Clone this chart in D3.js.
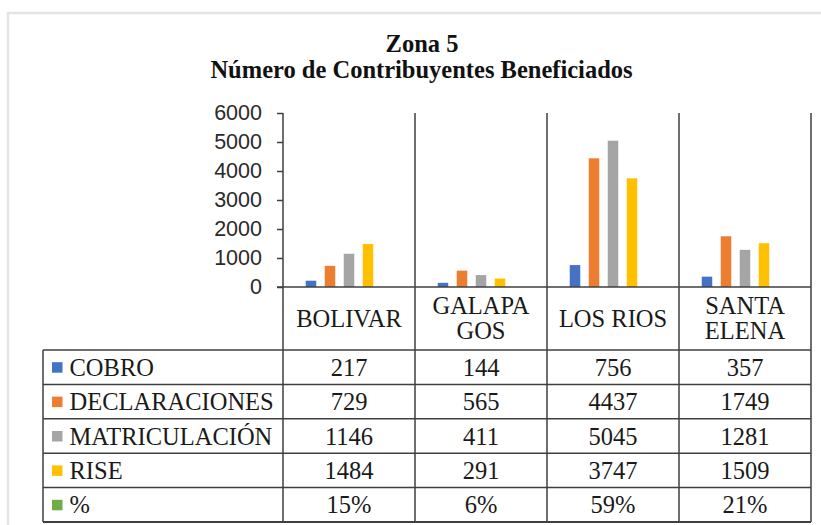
<!DOCTYPE html>
<html>
<head>
<meta charset="utf-8">
<script src="https://cdn.jsdelivr.net/npm/d3@7"></script>
<style>
  html, body { margin: 0; padding: 0; background: #ffffff; }
  svg { display: block; }
  .serif { font-family: "Liberation Serif", "Times New Roman", serif; }
  .sans { font-family: "Liberation Sans", Arial, sans-serif; }
</style>
</head>
<body>
<div id="chart"></div>
<script>
// ---- data ----
const titleLines = ["Zona 5", "Número de Contribuyentes Beneficiados"];
const categories = ["BOLIVAR", "GALAPAGOS", "LOS RIOS", "SANTA ELENA"];
const categoryLabels = [["BOLIVAR"], ["GALAPA", "GOS"], ["LOS RIOS"], ["SANTA", "ELENA"]];
const seriesNames = ["COBRO", "DECLARACIONES", "MATRICULACIÓN", "RISE", "%"];
const cobro = [217, 144, 756, 357];
const declaraciones = [729, 565, 4437, 1749];
const matriculacion = [1146, 411, 5045, 1281];
const rise = [1484, 291, 3747, 1509];
const porcentaje = [0.15, 0.06, 0.59, 0.21];
const yTicks = [0, 1000, 2000, 3000, 4000, 5000, 6000];
const seriesColors = ["#4472C4", "#ED7D31", "#A5A5A5", "#FFC000", "#70AD47"];

const seriesValues = [cobro, declaraciones, matriculacion, rise, porcentaje];
const seriesFormats = [d3.format("d"), d3.format("d"), d3.format("d"), d3.format("d"), d3.format(".0%")];

// ---- layout ----
const W = 821, H = 525;
const plotLeft = 283, plotRight = 811, plotTop = 113, plotBottom = 287;
const headerBottom = 350, tableLeft = 43, tableBottom = 522;
const rowH = (tableBottom - headerBottom) / seriesNames.length;
const lineColor = "#3f3f3f";
const textColor = "#1a1a1a";
const tableFont = "24.5px";

const svg = d3.select("#chart").append("svg")
  .attr("width", W).attr("height", H);

// outer frame (light gray)
svg.append("path")
  .attr("d", `M8,${H} L8,13 L${W},13`)
  .attr("fill", "none").attr("stroke", "#e4e4e4").attr("stroke-width", 2.5);

// title
svg.selectAll("text.title").data(titleLines).join("text")
  .attr("class", "title serif")
  .attr("x", (d, i) => i === 0 ? 422 : 421.5)
  .attr("y", (d, i) => i === 0 ? 52 : 78)
  .attr("text-anchor", "middle")
  .style("font-weight", "bold")
  .style("font-size", "24.5px").attr("fill", "#111")
  .text(d => d);

// scales
const x0 = d3.scaleBand().domain(categories).range([plotLeft, plotRight]).padding(0);
const x1 = d3.scaleBand().domain(seriesNames).range([0, x0.bandwidth()])
  .paddingInner(0.447).paddingOuter(1.197);
const y = d3.scaleLinear().domain([0, 6000]).range([plotBottom, plotTop]);

// bars
const barData = [];
categories.forEach((c, ci) => {
  seriesNames.forEach((s, si) => {
    barData.push({ c, s, si, v: seriesValues[si][ci] });
  });
});
svg.append("g").selectAll("rect").data(barData).join("rect")
  .attr("x", d => x0(d.c) + x1(d.s))
  .attr("width", x1.bandwidth())
  .attr("y", d => y(d.v))
  .attr("height", d => y(0) - y(d.v))
  .attr("fill", d => seriesColors[d.si]);

// y axis
const yAxis = d3.axisLeft(y).tickValues(yTicks).tickSize(6).tickPadding(15).tickFormat(d3.format("d"));
const gy = svg.append("g").attr("transform", `translate(${plotLeft},0)`).call(yAxis);
gy.attr("font-family", null).attr("font-size", null);
gy.select(".domain").remove();
gy.selectAll(".tick line").attr("stroke", lineColor).attr("stroke-width", 1.5);
gy.selectAll(".tick text")
  .attr("class", "sans").style("font-size", "21.5px").attr("fill", "#2a2a2a");

// horizontal axis line (category axis)
svg.append("line")
  .attr("x1", plotLeft - 6).attr("x2", plotRight)
  .attr("y1", y(0)).attr("y2", y(0))
  .attr("stroke", lineColor).attr("stroke-width", 1.5);

// vertical category boundaries (axis line + separators), extending through the table
const boundaries = categories.map(c => x0(c)).concat([x0.range()[1]]);
svg.append("g").selectAll("line").data(boundaries).join("line")
  .attr("x1", d => d).attr("x2", d => d)
  .attr("y1", plotTop).attr("y2", tableBottom)
  .attr("stroke", lineColor).attr("stroke-width", 1.5);

// category labels (header row)
const headerMid = (plotBottom + headerBottom) / 2;
categories.forEach((c, ci) => {
  const lines = categoryLabels[ci];
  const lh = 25;
  const first = headerMid + 8 - (lines.length - 1) * lh / 2;
  svg.append("text")
    .attr("class", "serif")
    .attr("text-anchor", "middle")
    .style("font-size", tableFont).attr("fill", textColor)
    .selectAll("tspan").data(lines).join("tspan")
    .attr("x", x0(c) + x0.bandwidth() / 2)
    .attr("y", (d, i) => first + i * lh)
    .text(d => d);
});

// data table: horizontal lines
const rowLines = d3.range(seriesNames.length + 1).map(i => headerBottom + i * rowH);
svg.append("g").selectAll("line").data(rowLines).join("line")
  .attr("x1", tableLeft).attr("x2", plotRight)
  .attr("y1", d => d).attr("y2", d => d)
  .attr("stroke", lineColor).attr("stroke-width", (d, i) => (i === rowLines.length - 1) ? 2 : 1.5);
// table left border
svg.append("line")
  .attr("x1", tableLeft).attr("x2", tableLeft)
  .attr("y1", headerBottom).attr("y2", tableBottom)
  .attr("stroke", lineColor).attr("stroke-width", 1.5);

// table rows: legend key + label + values
seriesNames.forEach((s, si) => {
  const mid = headerBottom + si * rowH + rowH / 2;
  svg.append("rect")
    .attr("x", 52).attr("y", mid - 5)
    .attr("width", 10.5).attr("height", 10.5)
    .attr("fill", seriesColors[si]);
  svg.append("text")
    .attr("class", "serif")
    .attr("x", 69.5).attr("y", mid + 8.5)
    .style("font-size", tableFont).attr("fill", textColor)
    .text(s);
  categories.forEach((c, ci) => {
    svg.append("text")
      .attr("class", "serif")
      .attr("x", x0(c) + x0.bandwidth() / 2).attr("y", mid + 8.5)
      .attr("text-anchor", "middle")
      .style("font-size", tableFont).attr("fill", textColor)
      .text(seriesFormats[si](seriesValues[si][ci]));
  });
});
</script>
</body>
</html>
